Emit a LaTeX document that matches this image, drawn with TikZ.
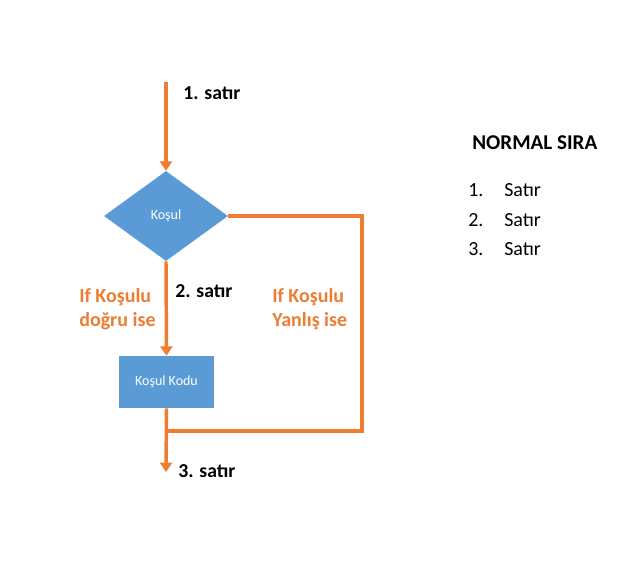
\documentclass[tikz,border=0pt]{standalone}
\usepackage{fontspec}
\setmainfont{Carlito}
\usepackage{tikz}
\usetikzlibrary{shapes.geometric,arrows.meta}
\definecolor{officeOrange}{HTML}{ED7D31}
\definecolor{officeBlue}{HTML}{5B9BD5}
\colorlet{flowLine}{officeOrange}
\colorlet{shapeFill}{officeBlue}

\begin{document}
\begin{tikzpicture}[
  x=0.75pt, y=-0.75pt,
  every shape/.style={
    fill=shapeFill,
    draw=none,
    text=white,
    font=\fontsize{10.5}{12}\selectfont,
  },
  condition/.style={
    every shape/.try,
    diamond,
    inner sep=0pt,
    minimum width=93pt,
    minimum height=67.5pt,
  },
  process/.style={
    every shape/.try,
    rectangle,
    minimum width=71.25pt,
    minimum height=39pt,
  },
  flow/.style={
    draw=flowLine,
    line width=2.6pt,
  },
  flowarrow/.style={
    flow,
    -{Triangle[length=7pt,width=9pt]},
  },
  rowlabel/.style={
    anchor=west,
    inner sep=0pt,
    font=\fontsize{14.8}{16}\selectfont\bfseries,
  },
  branchlabel/.style={
    anchor=west,
    inner sep=0pt,
    align=left,
    text=flowLine,
    font=\fontsize{15}{18}\selectfont\bfseries,
  },
  headline/.style={
    rowlabel,
    font=\fontsize{15.8}{18}\selectfont\bfseries,
  },
  listitem/.style={
    anchor=west,
    inner sep=0pt,
    font=\fontsize{15}{16}\selectfont,
  }
]
\useasboundingbox (0,0) rectangle (626,576);

% flow chart
\node[condition] (kosul) at (166,216) {Koşul};
\node[process] (kod) at (166.5,382) {Koşul Kodu};
\coordinate (start) at (166,82);
\coordinate (corner) at (362,431);
\coordinate (join) at (166,431);
\coordinate (end) at (166,472);

\draw[flowarrow] (start) -- (kosul.north);
\draw[flowarrow] (kosul.south) -- (kod.north);
\draw[flowarrow] (kod.south) -- (end);
\draw[flow] (kosul.east) -| (corner) -- (join);

% labels
\node[rowlabel] (satir1) at (183,93) {1. satır};
\node[rowlabel] (satir2) at (175,291) {2. satır};
\node[rowlabel] (satir3) at (178,471) {3. satır};
\node[branchlabel] (dogru) at (79,309) {If Koşulu\\doğru ise};
\node[branchlabel] (yanlis) at (272,309) {If Koşulu\\Yanlış ise};

% normal order list
\node[headline] (baslik) at (472,143) {NORMAL SIRA};
\foreach \k/\y in {1/190,2/220,3/249}
{
  \node[listitem] (no\k) at (468,\y) {\k.};
  \node[listitem] (item\k) at (504,\y) {Satır};
}
\end{tikzpicture}
\end{document}
